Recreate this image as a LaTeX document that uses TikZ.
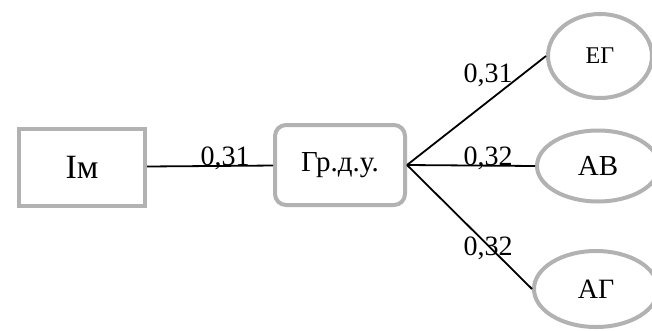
\documentclass[tikz,border=0pt]{standalone}
\usepackage{fontspec}
\setmainfont{Liberation Serif}
\usetikzlibrary{shapes.geometric}

\begin{document}
\begin{tikzpicture}[x=1pt, y=-1pt,
    box/.style={draw=black!30, line width=4pt, fill=white, inner sep=0pt},
    rbox/.style={box, rounded corners=11pt},
    oval/.style={box, ellipse},
    link/.style={black, line width=1.8pt},
    weight/.style={inner sep=0pt, anchor=base, font=\fontsize{28}{28}\selectfont}]
    \useasboundingbox (0,0) rectangle (652,330);
    % blocks
    \node[box, minimum width=126pt, minimum height=77pt, font=\fontsize{34}{34}\selectfont] (im) at (82,167) {Ім};
    \node[rbox, minimum width=130pt, minimum height=80pt, font=\fontsize{29}{29}\selectfont] (grdu) at (340,165) {Гр.д.у.};
    \node[oval, minimum width=104pt, minimum height=84pt, font=\fontsize{24}{24}\selectfont] (eg) at (600,56) {ЕГ};
    \node[oval, minimum width=122pt, minimum height=71pt, font=\fontsize{29}{29}\selectfont] (av) at (598,166) {АВ};
    \node[oval, minimum width=124pt, minimum height=76pt, font=\fontsize{28}{28}\selectfont] (ag) at (596,289) {АГ};
    % weights
    \node[weight] (w1) at (225,165) {0,31};
    \node[weight] (w2) at (488,82) {0,31};
    \node[weight] (w3) at (488,165) {0,32};
    \node[weight] (w4) at (488,255) {0,32};
    % links
    \draw[link] (im) -- (grdu);
    \draw[link] (grdu.east) -- (eg.west);
    \draw[link] (grdu.east) -- (av.west);
    \draw[link] (grdu.east) -- (ag.west);
\end{tikzpicture}
\end{document}
